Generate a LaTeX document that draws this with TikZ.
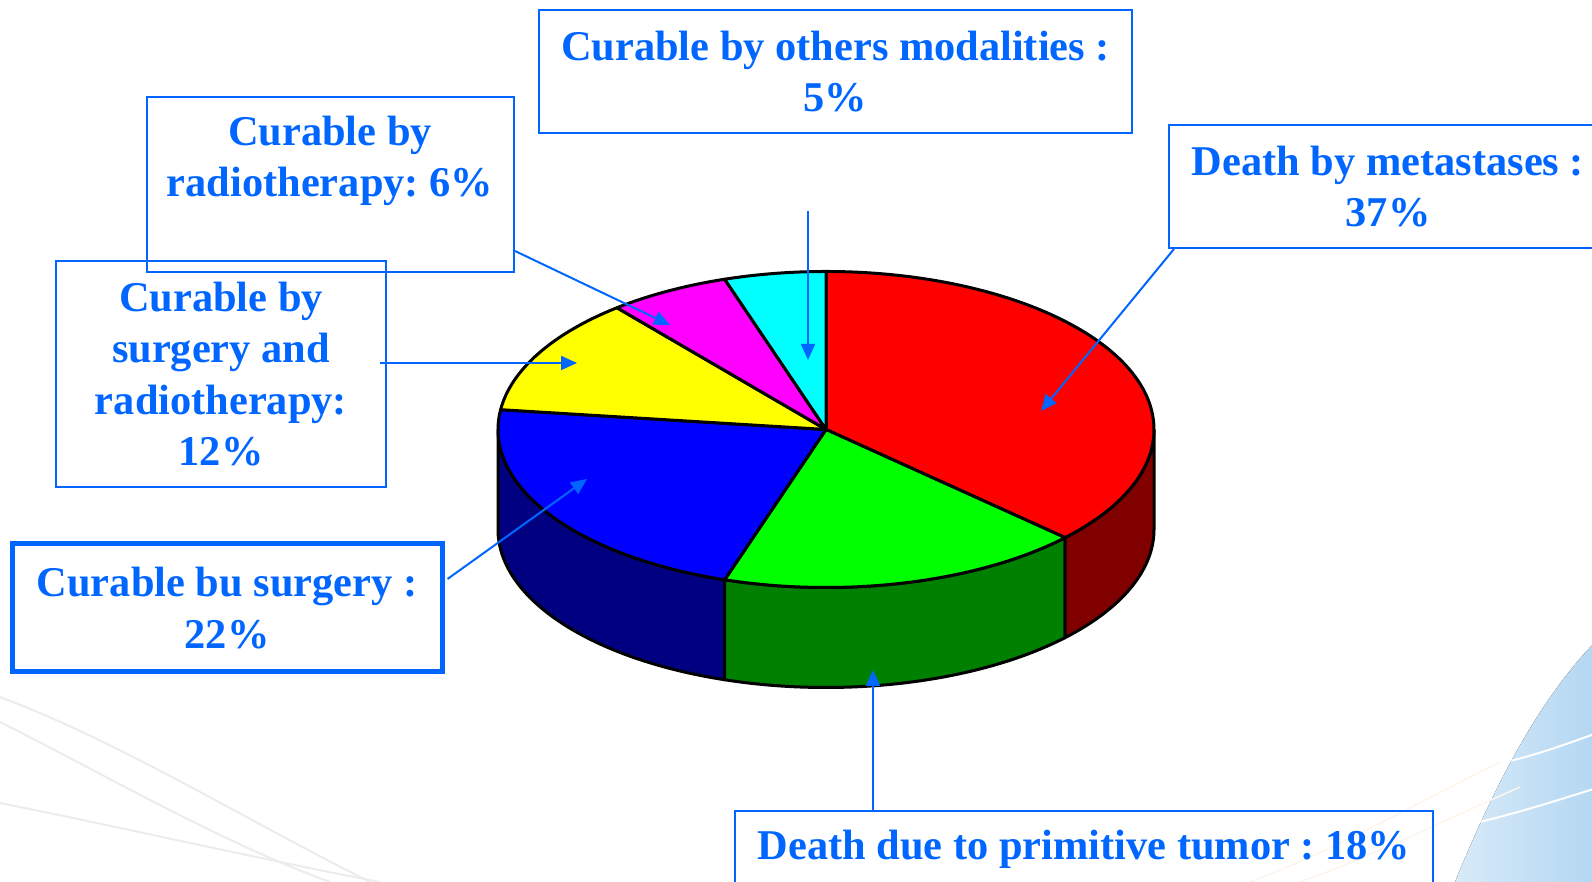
\documentclass[tikz,border=0pt]{standalone}
\usepackage{fontspec}
\setmainfont{Liberation Serif}
\usetikzlibrary{calc,arrows.meta}
\definecolor{labelBlue}{RGB}{0,102,255}
\definecolor{navyDark}{RGB}{0,0,128}
\definecolor{greenDark}{RGB}{0,128,0}
\definecolor{redDark}{RGB}{128,0,0}
\definecolor{pieRed}{RGB}{255,0,0}
\definecolor{pieGreen}{RGB}{0,255,0}
\definecolor{pieBlue}{RGB}{0,0,255}
\definecolor{pieYellow}{RGB}{255,255,0}
\definecolor{pieMagenta}{RGB}{255,0,255}
\definecolor{pieCyan}{RGB}{0,255,255}
\definecolor{swooshBlue}{RGB}{178,214,242}
\definecolor{swooshGray}{RGB}{236,236,236}
\tikzstyle{sliceStyle} = [draw=black, line width=3pt, line join=round]
\tikzstyle{labelText} = [font=\fontsize{42.4}{51.5}\selectfont\bfseries\frenchspacing, text=labelBlue, align=center]
\tikzstyle{labelBox} = [labelText, draw=labelBlue, line width=2pt, inner sep=0pt]
\tikzstyle{pointerLine} = [labelBlue, line width=2pt, -{Triangle[length=16pt,width=14pt]}]
\newcommand{\pieRx}{328}
\newcommand{\pieRy}{158}
\newcommand{\pieH}{100}
\newcommand{\pieTop}[3]{\filldraw [sliceStyle, fill=#3] (pieCenter) -- ++(#1:{\pieRx} and {\pieRy}) arc [start angle=#1, end angle=#2, x radius=\pieRx, y radius=\pieRy] -- cycle;}
\newcommand{\pieSide}[3]{\filldraw [sliceStyle, fill=#3] ($(pieCenter) + (#1:{\pieRx} and {\pieRy})$) arc [start angle=#1, end angle=#2, x radius=\pieRx, y radius=\pieRy] -- ++(0,-\pieH) arc [start angle=#2, end angle=#1, x radius=\pieRx, y radius=\pieRy] -- cycle;}
\begin{document}
\begin{tikzpicture}[x=1pt, y=1pt]
  \useasboundingbox (0,0) rectangle (1592,882);
  \clip (0,0) rectangle (1592,882);

  % background swooshes
  \begin{scope}
    \clip (1455,0) .. controls (1500,110) and (1545,190) .. (1600,245) -- (1600,0) -- cycle;
    \fill [left color=swooshBlue!45, right color=swooshBlue] (1440,0) rectangle (1600,250);
    \draw [white, line width=2pt] (1440,50) .. controls (1520,70) .. (1600,95);
    \draw [white, line width=2pt] (1440,105) .. controls (1530,125) .. (1600,150);
  \end{scope}
  \draw [swooshGray, line width=2pt] (0,185) .. controls (120,140) and (250,60) .. (370,0);
  \draw [swooshGray, line width=2pt] (0,160) .. controls (100,110) and (220,40) .. (330,0);
  \draw [swooshGray, line width=2pt] (0,79) .. controls (120,55) and (250,25) .. (380,0);
  \draw [swooshGray!70!orange!20, line width=1.5pt] (1250,0) .. controls (1330,30) and (1400,70) .. (1500,120);
  \draw [swooshGray!70!orange!20, line width=1.5pt] (1300,0) .. controls (1370,25) and (1430,55) .. (1520,95);

  % the pie
  \coordinate (pieCenter) at (826,452.5);
  \pieSide{-180}{-108}{navyDark}
  \pieSide{-108}{-43.2}{greenDark}
  \pieSide{-43.2}{0}{redDark}
  \pieTop{-43.2}{90}{pieRed}
  \pieTop{-108}{-43.2}{pieGreen}
  \pieTop{172.8}{252}{pieBlue}
  \pieTop{129.6}{172.8}{pieYellow}
  \pieTop{108}{129.6}{pieMagenta}
  \pieTop{90}{108}{pieCyan}

  % labels
  \node [labelBox, minimum width=593, minimum height=123] (others) at (835.5,810.5) {Curable by others modalities :\\5\%};
  \node [labelBox, minimum width=367, minimum height=175] (radio) at (330.5,697.5) {};
  \node [labelText] (radioText) at (330,721) {Curable by\\radiotherapy: 6\%};
  \node [labelBox, minimum width=330, minimum height=226] (surgRadio) at (221,508) {Curable by\\surgery and\\radiotherapy:\\12\%};
  \node [labelBox, line width=5pt, minimum width=430, minimum height=128] (surgery) at (227,274) {Curable bu surgery :\\22\%};
  \node [labelBox, minimum width=438, minimum height=123] (meta) at (1388,695.5) {Death by metastases :\\37\%};
  \node [labelBox, minimum width=698, minimum height=76] (primitive) at (1084,33) {Death due to primitive tumor : 18\%};

  % pointers
  \coordinate (radioEnd) at (670,557);
  \coordinate (surgRadioEnd) at (577,519);
  \coordinate (othersStart) at (808,671);
  \coordinate (othersEnd) at (808,522);
  \coordinate (surgeryEnd) at (587,403);
  \coordinate (metaEnd) at (1041,471);
  \coordinate (primitiveEnd) at (873,212);
  \draw [pointerLine] ([yshift=22]radio.south east) -- (radioEnd);
  \draw [pointerLine] ([xshift=-7, yshift=11]surgRadio.east) -- (surgRadioEnd);
  \draw [pointerLine] (othersStart) -- (othersEnd);
  \draw [pointerLine] ([xshift=3, yshift=29]surgery.east) -- (surgeryEnd);
  \draw [pointerLine] ([xshift=6]meta.south west) -- (metaEnd);
  \draw [pointerLine] (primitiveEnd |- primitive.north) -- (primitiveEnd);
\end{tikzpicture}
\end{document}
